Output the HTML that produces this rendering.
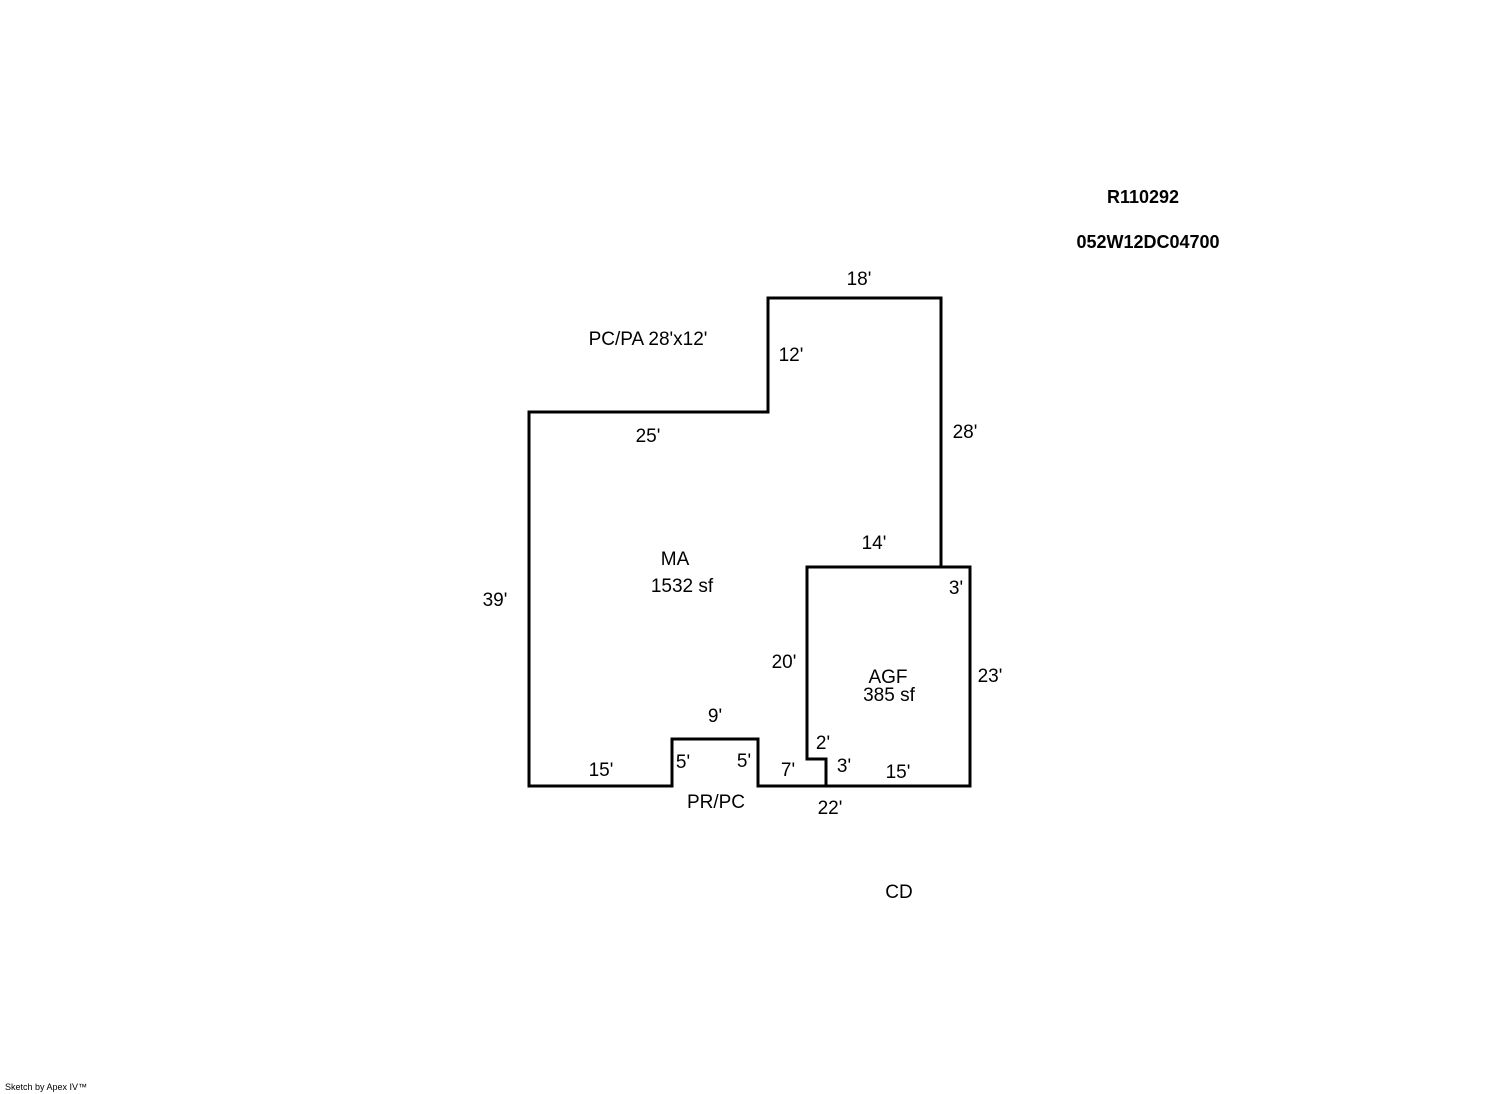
<!DOCTYPE html>
<html><head><meta charset="utf-8"><style>
html,body{margin:0;padding:0;background:#fff;}
svg{display:block;}
text{font-family:"Liberation Sans",Arial,sans-serif;font-size:19px;fill:#000;}
.b{font-weight:bold;font-size:18px;}
.s{font-size:9px;}
</style></head><body>
<svg width="1492" height="1094" viewBox="0 0 1492 1094" xmlns="http://www.w3.org/2000/svg">
<rect width="1492" height="1094" fill="#fff"/>
<g fill="none" stroke="#000" stroke-width="3" stroke-linejoin="miter">
<polygon points="529,412 768,412 768,298 941,298 941,567 807,567 807,759 826,759 826,786 758,786 758,739 672,739 672,786 529,786"/>
<polyline points="807,567 970,567 970,786 826,786"/>
</g>
<text class="b" x="1143" y="203" text-anchor="middle">R110292</text>
<text class="b" x="1148" y="248" text-anchor="middle">052W12DC04700</text>
<text x="859" y="285" text-anchor="middle">18'</text>
<text x="648" y="345" text-anchor="middle">PC/PA 28'x12'</text>
<text x="791" y="361" text-anchor="middle">12'</text>
<text x="648" y="442" text-anchor="middle">25'</text>
<text x="965" y="438" text-anchor="middle">28'</text>
<text x="874" y="549" text-anchor="middle">14'</text>
<text x="675" y="565" text-anchor="middle">MA</text>
<text x="682" y="592" text-anchor="middle">1532 sf</text>
<text x="956" y="594" text-anchor="middle">3'</text>
<text x="495" y="606" text-anchor="middle">39'</text>
<text x="784" y="668" text-anchor="middle">20'</text>
<text x="888" y="683" text-anchor="middle">AGF</text>
<text x="889" y="701" text-anchor="middle">385 sf</text>
<text x="990" y="682" text-anchor="middle">23'</text>
<text x="715" y="722" text-anchor="middle">9'</text>
<text x="823" y="749" text-anchor="middle">2'</text>
<text x="683" y="768" text-anchor="middle">5'</text>
<text x="744" y="767" text-anchor="middle">5'</text>
<text x="844" y="772" text-anchor="middle">3'</text>
<text x="601" y="776" text-anchor="middle">15'</text>
<text x="788" y="776" text-anchor="middle">7'</text>
<text x="898" y="778" text-anchor="middle">15'</text>
<text x="716" y="808" text-anchor="middle">PR/PC</text>
<text x="830" y="814" text-anchor="middle">22'</text>
<text x="899" y="898" text-anchor="middle">CD</text>
<text class="s" x="5" y="1090">Sketch by Apex IV™</text>
</svg>
</body></html>
